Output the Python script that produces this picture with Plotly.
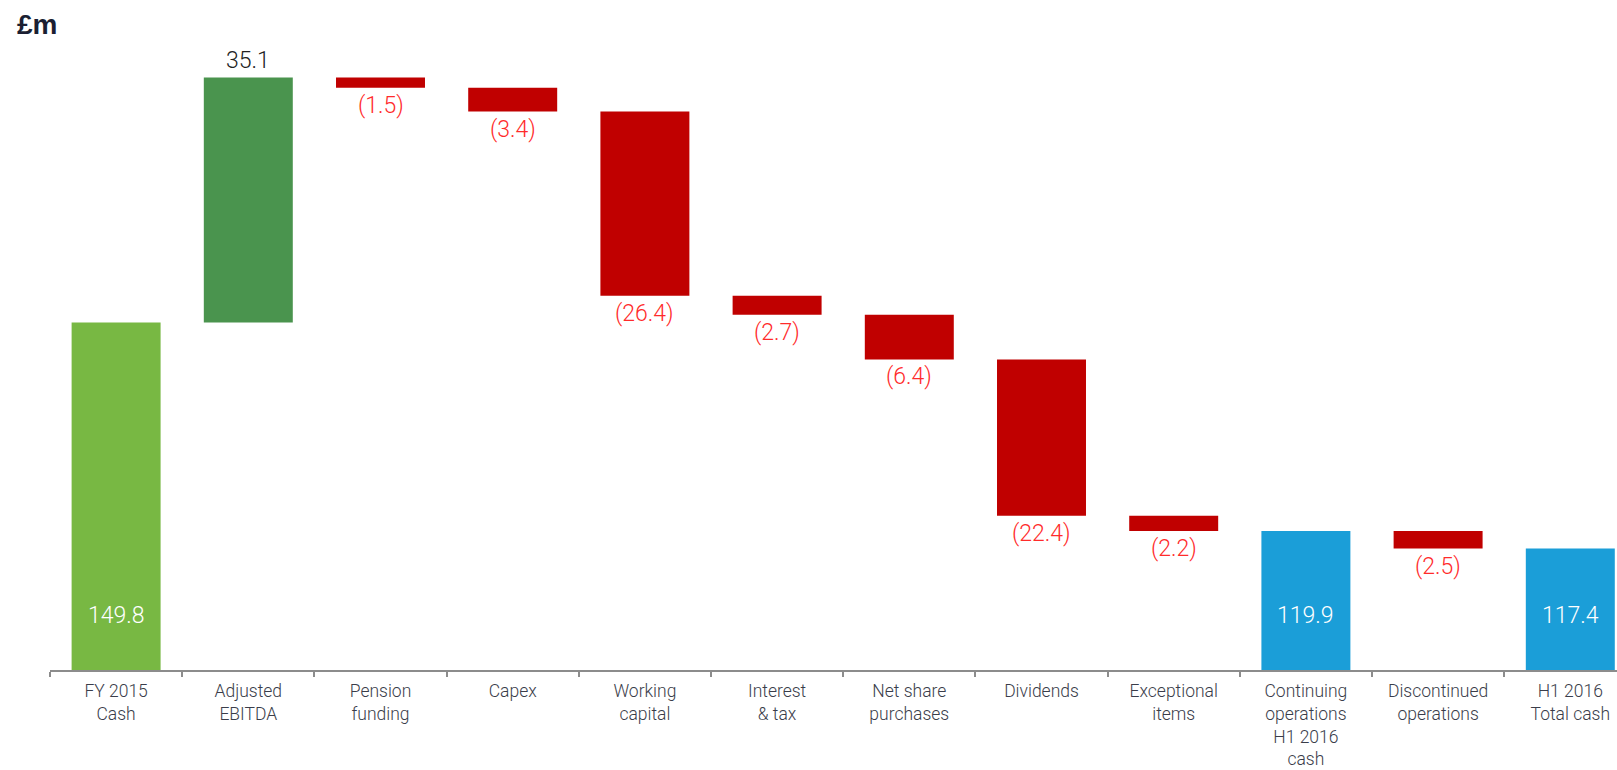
import plotly.graph_objects as go

# ---- data ----
categories = ["FY 2015<br>Cash", "Adjusted<br>EBITDA", "Pension<br>funding", "Capex",
              "Working<br>capital", "Interest<br>& tax", "Net share<br>purchases", "Dividends",
              "Exceptional<br>items", "Continuing<br>operations<br>H1 2016<br>cash",
              "Discontinued<br>operations", "H1 2016<br>Total cash"]
values = [149.8, 35.1, -1.5, -3.4, -26.4, -2.7, -6.4, -22.4, -2.2, 119.9, -2.5, 117.4]
measures = ["absolute", "relative", "relative", "relative", "relative", "relative",
            "relative", "relative", "relative", "total", "relative", "total"]
unit_label = "£m"

# ---- styles ----
C_START = "#78B843"
C_UP = "#4A944E"
C_DOWN = "#C00000"
C_TOTAL = "#1B9ED8"
C_NEG_TXT = "#FF2B2B"
FONT = "Roboto"

Y_MIN = 100.0
PX_PER_UNIT = 6.98
PLOT_H = 670
Y_MAX = Y_MIN + PLOT_H / PX_PER_UNIT
CAT_W = 132.2
PLOT_W = 1617 - 50

bases, heights, colors, texts = [], [], [], []
running = 0.0
for v, m in zip(values, measures):
    if m == "absolute":
        bases.append(0.0); heights.append(v); colors.append(C_START); running = v
        texts.append(("inside", f"{v:.1f}"))
    elif m == "total":
        bases.append(0.0); heights.append(v); colors.append(C_TOTAL); running = v
        texts.append(("inside", f"{v:.1f}"))
    else:
        bases.append(running); heights.append(v)
        colors.append(C_UP if v >= 0 else C_DOWN)
        running += v
        texts.append(("above" if v >= 0 else "below",
                      f"{v:.1f}" if v >= 0 else f"({abs(v):.1f})"))

fig = go.Figure()
fig.add_trace(go.Bar(
    x=categories, y=heights, base=bases,
    marker=dict(color=colors, line=dict(width=0)),
    width=0.673, hoverinfo="skip", showlegend=False,
))

annotations = []
for cat, (kind, t), b, h in zip(categories, texts, bases, heights):
    if kind == "inside":
        annotations.append(dict(x=cat, y=Y_MIN, yshift=55, text=t, showarrow=False,
                                xanchor="center", yanchor="middle",
                                font=dict(family=FONT, size=23, color="white", weight=300)))
    elif kind == "above":
        annotations.append(dict(x=cat, y=b + h, yshift=1, text=t, showarrow=False,
                                xanchor="center", yanchor="bottom",
                                font=dict(family=FONT, size=23, color="#222222", weight=300)))
    else:
        annotations.append(dict(x=cat, y=b + h, yshift=-2, text=t, showarrow=False,
                                xanchor="center", yanchor="top",
                                font=dict(family=FONT, size=23, color=C_NEG_TXT, weight=300)))

annotations.append(dict(xref="paper", yref="paper", x=(15 - 50) / PLOT_W, y=(PLOT_H - 25) / PLOT_H,
                        xanchor="left", yanchor="middle", text=f"<b>{unit_label}</b>",
                        showarrow=False, font=dict(family="Liberation Sans", size=28, color="#1B1F33")))

fig.update_layout(
    width=1617, height=770,
    margin=dict(l=50, r=0, t=0, b=770 - PLOT_H, pad=0, autoexpand=False),
    plot_bgcolor="white", paper_bgcolor="white",
    annotations=annotations,
    xaxis=dict(
        type="category", categoryorder="array", categoryarray=categories,
        tickson="boundaries", automargin=False,
        range=[-0.5, -0.5 + PLOT_W / CAT_W],
        showline=True, linecolor="#8C8C8C", linewidth=2,
        ticks="outside", ticklen=5, tickwidth=1.5, tickcolor="#8C8C8C",
        ticklabelstandoff=4,
        showgrid=False, zeroline=False,
        tickfont=dict(family=FONT, size=17.5, color="#3A3D4A", weight=300),
    ),
    yaxis=dict(range=[Y_MIN, Y_MAX], visible=False, showgrid=False, zeroline=False,
               automargin=False),
)

fig.write_html("out.html")
